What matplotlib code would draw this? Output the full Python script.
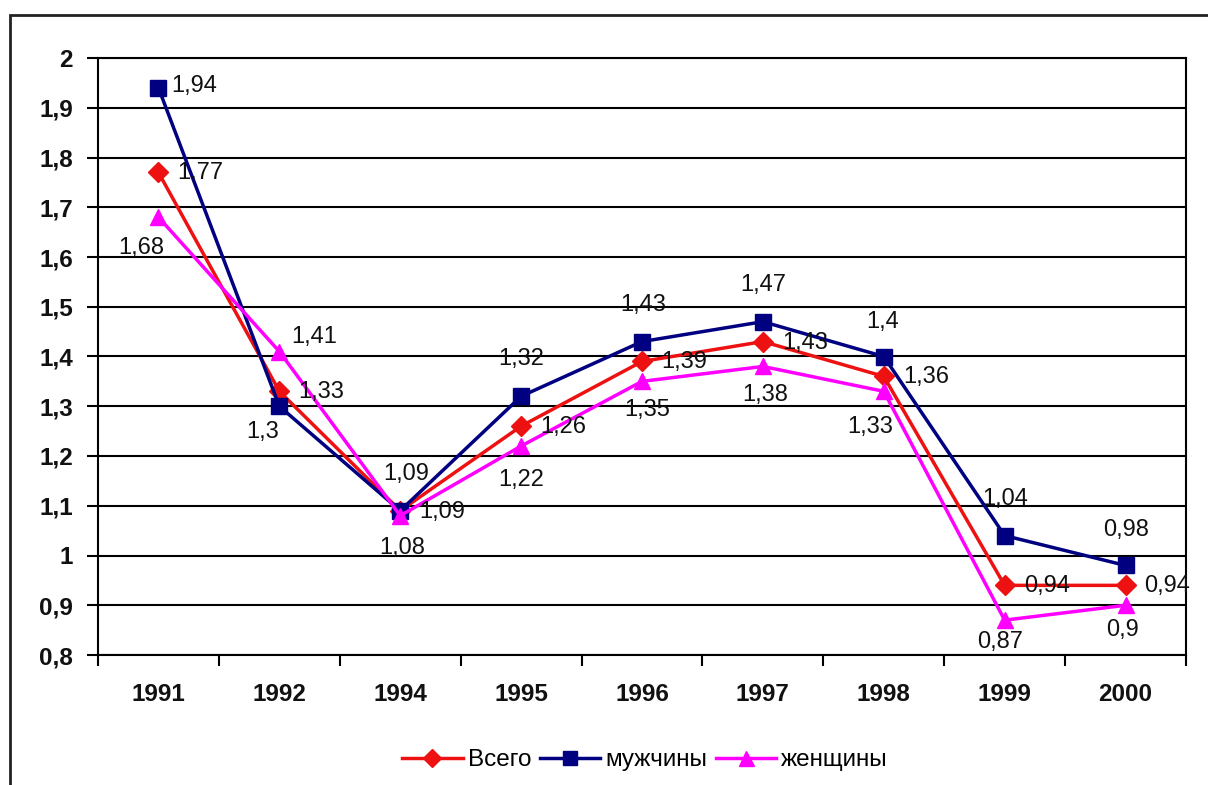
import matplotlib
matplotlib.use("Agg")
import matplotlib.pyplot as plt
from matplotlib.patches import Rectangle
from matplotlib.ticker import FuncFormatter, FixedLocator

plt.rcParams['font.family'] = ['Liberation Sans', 'DejaVu Sans']

# data
years = ['1991', '1992', '1994', '1995', '1996', '1997', '1998', '1999', '2000']
total = [1.77, 1.33, 1.09, 1.26, 1.39, 1.43, 1.36, 0.94, 0.94]
men = [1.94, 1.30, 1.09, 1.32, 1.43, 1.47, 1.40, 1.04, 0.98]
women = [1.68, 1.41, 1.08, 1.22, 1.35, 1.38, 1.33, 0.87, 0.90]

# label offsets from each marker, in pixels (dx right, dy down)
total_off = [(42, 1)] * 9
men_off = [(36, -2), (-17, 26), (6, -37), (0, -37), (1, -37),
           (0, -37), (-1, -35), (1, -37), (1, -35)]
women_off = [(-17, 31), (35, -15), (2, 32), (0, 34), (5, 29),
             (2, 29), (-14, 36), (-5, 22), (-3, 25)]


def fmt(v):
    return f"{v:g}".replace('.', ',')


fig = plt.figure(figsize=(12.08, 7.85), dpi=100)
fig.patch.set_facecolor('white')

# outer chart frame
fig.patches.append(Rectangle((10 / 1208, -0.05), 1.1, (785 - 15) / 785 + 0.05,
                             transform=fig.transFigure, fill=False,
                             edgecolor='#222222', linewidth=2.0, zorder=0))

ax = fig.add_axes([98 / 1208, 130 / 785, (1186 - 98) / 1208, (655 - 58) / 785])
x = list(range(len(years)))

series = [
    (total, 'Всего', '#ee1111', 'D', 10, total_off),
    (men, 'мужчины', '#000080', 's', 11, men_off),
    (women, 'женщины', '#ff00ff', '^', 12, women_off),
]

handles = []
for vals, name, color, mk, ms, offs in series:
    h, = ax.plot(x, vals, color=color, linewidth=2.5, marker=mk,
                 markersize=ms, markerfacecolor=color, markeredgecolor=color,
                 label=name, zorder=3)
    handles.append(h)
    for xi, v, (dx, dy) in zip(x, vals, offs):
        ax.annotate(fmt(v), (xi, v), xytext=(dx * 0.72, -dy * 0.72),
                    textcoords='offset points', ha='center', va='center',
                    fontsize=17, color='#111111', zorder=4)

ax.set_xlim(-0.5, len(years) - 0.5)
ax.set_ylim(0.8, 2.0)

ax.set_yticks([0.8 + 0.1 * i for i in range(13)])
ax.yaxis.set_major_formatter(FuncFormatter(lambda v, p: fmt(round(v, 1))))
ax.yaxis.grid(True, color='black', linewidth=1.5)
ax.set_axisbelow(True)

ax.set_xticks(x)
ax.set_xticklabels(years)
ax.xaxis.set_minor_locator(FixedLocator([i - 0.5 for i in range(len(years) + 1)]))
ax.tick_params(axis='x', which='major', length=0, pad=20)
ax.tick_params(axis='x', which='minor', length=8, width=1.5, color='black')
ax.tick_params(axis='y', length=8, width=1.5, pad=10)

for lbl in ax.get_xticklabels() + ax.get_yticklabels():
    lbl.set_fontsize(17.5)
    lbl.set_fontweight('bold')
    lbl.set_color('#111111')

for sp in ax.spines.values():
    sp.set_color('black')
    sp.set_linewidth(1.5)

fig.legend(handles=handles, loc='center', bbox_to_anchor=(645 / 1208, 1 - 760 / 785),
           ncol=3, frameon=False, fontsize=17.5, handlelength=2.5,
           columnspacing=0.35, handletextpad=0.2, markerscale=0.9)

fig.savefig('out.png', dpi=100)
